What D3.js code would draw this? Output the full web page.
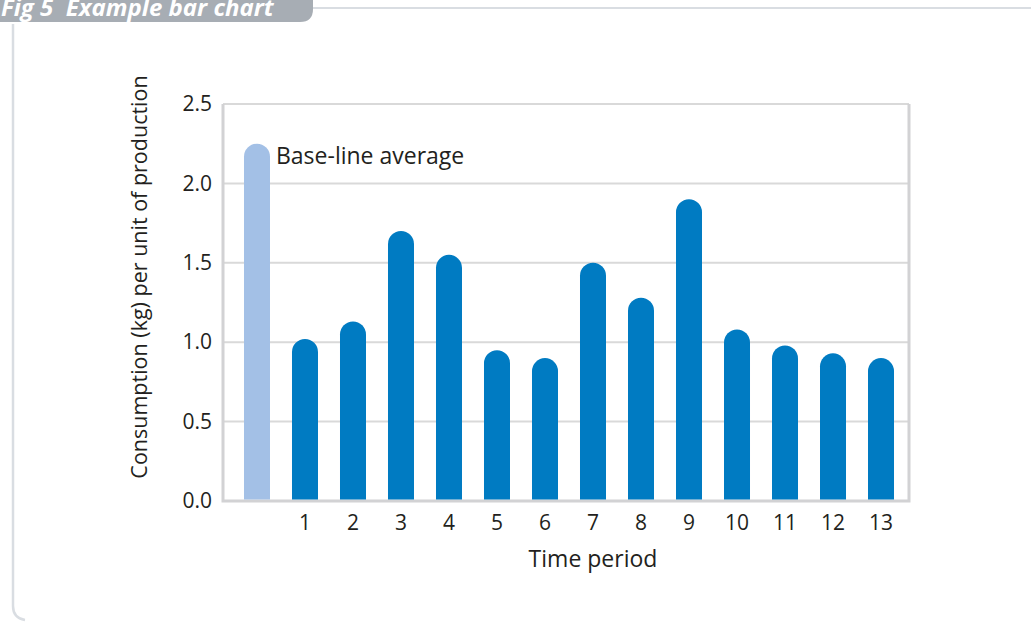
<!DOCTYPE html>
<html lang="en">
<head>
  <meta charset="utf-8">
  <script src="https://d3js.org/d3.v7.min.js"></script>
  <style>
    body { margin: 0; background: #fff; }
    svg { display: block; font-family: "Open Sans", sans-serif; }
  </style>
</head>
<body>
  <svg width="1031" height="622"></svg>
  <script>
    // data
    var categories = ["base", "1", "2", "3", "4", "5", "6", "7", "8", "9", "10", "11", "12", "13"];
    var values = [2.25, 1.02, 1.13, 1.70, 1.55, 0.95, 0.90, 1.50, 1.28, 1.90, 1.08, 0.98, 0.93, 0.90];
    var yTicks = [0, 0.5, 1.0, 1.5, 2.0, 2.5];
    var baseLabel = "Base-line average";

    var svg = d3.select("svg");
    var frameL = 223, frameR = 909, plotTop = 104, plotBottom = 501;
    var ink = "#231f20";

    // outer panel
    svg.append("path")
      .attr("d", "M13,24 L13,606 Q13,618 25,620")
      .attr("fill", "none").attr("stroke", "#d9dde2").attr("stroke-width", 2.5);
    svg.append("line").attr("x1", 300).attr("x2", 1031).attr("y1", 8).attr("y2", 8)
      .attr("stroke", "#d9dde2").attr("stroke-width", 2);
    svg.append("path")
      .attr("d", "M0,0 L313,0 L313,9 Q313,22 300,22 L0,22 Z")
      .attr("fill", "#a7adb4");
    svg.append("text").attr("x", 1).attr("y", 16)
      .attr("fill", "#fff").attr("font-size", 24).attr("font-weight", "bold").attr("font-style", "italic")
      .attr("xml:space", "preserve")
      .text("Fig 5  Example bar chart");

    var x = d3.scaleBand().domain(categories).range([233, 905]).paddingInner(0.4583).paddingOuter(0.229);
    var y = d3.scaleLinear().domain([0, 2.5]).range([plotBottom, plotTop]);

    // gridlines
    svg.append("g").selectAll("line").data(yTicks.slice(1)).join("line")
      .attr("x1", frameL).attr("x2", frameR)
      .attr("y1", d => y(d)).attr("y2", d => y(d))
      .attr("stroke", "#d9d9d9").attr("stroke-width", 2);

    // frame
    svg.append("path")
      .attr("d", "M" + frameL + "," + plotTop + " L" + frameL + "," + plotBottom + " L" + frameR + "," + plotBottom + " L" + frameR + "," + plotTop)
      .attr("fill", "none").attr("stroke", "#d2d2d4").attr("stroke-width", 3);

    // bars with rounded tops
    svg.append("g").selectAll("path").data(values).join("path")
      .attr("fill", (d, i) => i === 0 ? "#a3c0e6" : "#007bc2")
      .attr("d", function (d, i) {
        var w = x.bandwidth(), r = w / 2, x0 = x(categories[i]);
        var yt = y(d), b = plotBottom - 1.5;
        return "M" + x0 + "," + b + " L" + x0 + "," + (yt + r) +
          " A" + r + "," + r + " 0 0 1 " + (x0 + w) + "," + (yt + r) +
          " L" + (x0 + w) + "," + b + " Z";
      });

    // y axis labels
    var yAxis = d3.axisLeft(y).tickValues(yTicks).tickFormat(d3.format(".1f")).tickSize(0).tickPadding(0);
    var gy = svg.append("g").attr("transform", "translate(212,0)").call(yAxis);
    gy.select(".domain").remove();
    gy.selectAll("text").attr("font-size", 21).attr("fill", ink).attr("font-family", "Open Sans, sans-serif");

    // x axis labels
    var xAxis = d3.axisBottom(x).tickSize(0).tickPadding(0).tickFormat(d => d === "base" ? "" : d);
    var gx = svg.append("g").attr("transform", "translate(0,515)").call(xAxis);
    gx.select(".domain").remove();
    gx.selectAll("text").attr("font-size", 21).attr("fill", ink).attr("font-family", "Open Sans, sans-serif");

    // baseline annotation
    svg.append("text").attr("x", x("base") + x.bandwidth() + 6).attr("y", y(2.25) + 20)
      .attr("font-size", 23).attr("fill", ink).text(baseLabel);

    // axis titles
    var c1 = x("1"), c13 = x("13") + x.bandwidth();
    svg.append("text").attr("x", (c1 + c13) / 2).attr("y", 567).attr("text-anchor", "middle")
      .attr("font-size", 23).attr("fill", ink).text("Time period");
    svg.append("text").attr("transform", "translate(147,277) rotate(-90)").attr("text-anchor", "middle")
      .attr("font-size", 21.5).attr("fill", ink).text("Consumption (kg) per unit of production");
  </script>
</body>
</html>
